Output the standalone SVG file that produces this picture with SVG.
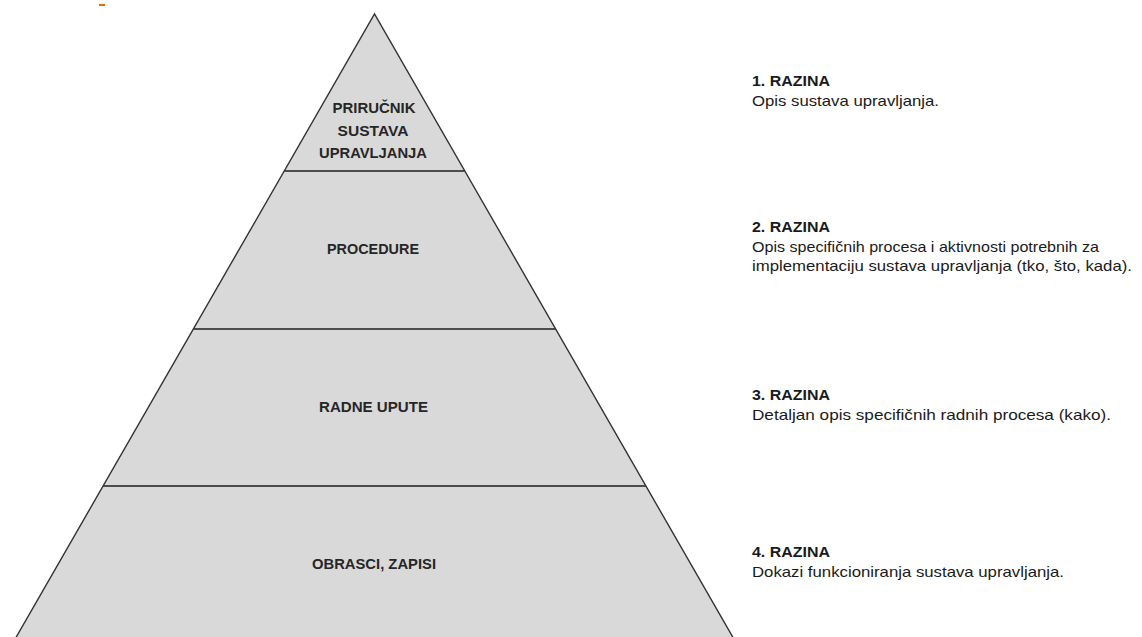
<svg xmlns="http://www.w3.org/2000/svg" width="1142" height="637" viewBox="0 0 1142 637">
  <style>
    .lvl { fill: #d9d9d9; stroke: none; }
    .div { stroke: #4d4d4d; stroke-width: 2; fill: none; }
    .edge { stroke: #333333; stroke-width: 1.4; fill: none; }
    .lab { font-family: "Liberation Sans", Arial, sans-serif; font-weight: bold; font-size: 15.5px; fill: #262626; text-anchor: middle; }
    .head { font-family: "Liberation Sans", Arial, sans-serif; font-weight: bold; font-size: 14.5px; fill: #1a1a1a; }
    .desc { font-family: "Liberation Sans", Arial, sans-serif; font-size: 14.5px; fill: #1a1a1a; }
  </style>
  <rect width="1142" height="637" fill="#ffffff"/>
  <rect x="99" y="4" width="6" height="2" fill="#e36c09"/>

  <g id="level1">
    <polygon class="lvl" points="374.5,14 464.8,171 284.2,171"/>
    <text class="lab" x="374" y="113" textLength="83" lengthAdjust="spacingAndGlyphs">PRIRUČNIK</text>
    <text class="lab" x="373" y="136" textLength="71" lengthAdjust="spacingAndGlyphs">SUSTAVA</text>
    <text class="lab" x="373" y="158" textLength="108" lengthAdjust="spacingAndGlyphs">UPRAVLJANJA</text>
  </g>
  <g id="level2">
    <polygon class="lvl" points="284.2,171 464.8,171 555.6,329 193.4,329"/>
    <text class="lab" x="373" y="254" textLength="92" lengthAdjust="spacingAndGlyphs">PROCEDURE</text>
  </g>
  <g id="level3">
    <polygon class="lvl" points="193.4,329 555.6,329 645.9,486 103.1,486"/>
    <text class="lab" x="373.5" y="412" textLength="109" lengthAdjust="spacingAndGlyphs">RADNE UPUTE</text>
  </g>
  <g id="level4">
    <polygon class="lvl" points="103.1,486 645.9,486 736.2,643 12.8,643"/>
    <text class="lab" x="374" y="569" textLength="124" lengthAdjust="spacingAndGlyphs">OBRASCI, ZAPISI</text>
  </g>

  <g id="connectors">
    <line class="div" x1="284.2" y1="171" x2="464.8" y2="171"/>
    <line class="div" x1="193.4" y1="329" x2="555.6" y2="329"/>
    <line class="div" x1="103.1" y1="486" x2="645.9" y2="486"/>
    <path class="edge" d="M12.8,643 L374.5,14 L736.2,643"/>
  </g>

  <g id="razina1">
    <text class="head" x="752" y="86" textLength="78" lengthAdjust="spacingAndGlyphs">1. RAZINA</text>
    <text class="desc" x="752" y="106" textLength="187" lengthAdjust="spacingAndGlyphs">Opis sustava upravljanja.</text>
  </g>
  <g id="razina2">
    <text class="head" x="752" y="232" textLength="78" lengthAdjust="spacingAndGlyphs">2. RAZINA</text>
    <text class="desc" x="752" y="252" textLength="347" lengthAdjust="spacingAndGlyphs">Opis specifičnih procesa i aktivnosti potrebnih za</text>
    <text class="desc" x="752" y="271" textLength="380" lengthAdjust="spacingAndGlyphs">implementaciju sustava upravljanja (tko, što, kada).</text>
  </g>
  <g id="razina3">
    <text class="head" x="752" y="400" textLength="78" lengthAdjust="spacingAndGlyphs">3. RAZINA</text>
    <text class="desc" x="752" y="420" textLength="359" lengthAdjust="spacingAndGlyphs">Detaljan opis specifičnih radnih procesa (kako).</text>
  </g>
  <g id="razina4">
    <text class="head" x="752" y="557" textLength="78" lengthAdjust="spacingAndGlyphs">4. RAZINA</text>
    <text class="desc" x="752" y="577" textLength="312" lengthAdjust="spacingAndGlyphs">Dokazi funkcioniranja sustava upravljanja.</text>
  </g>
</svg>
